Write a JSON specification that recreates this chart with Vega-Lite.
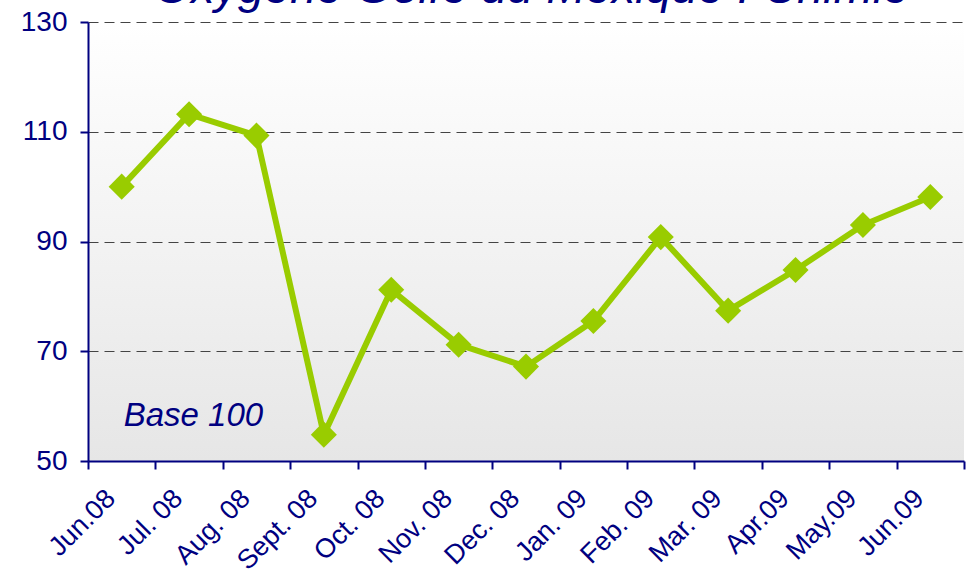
{
  "$schema": "https://vega.github.io/schema/vega-lite/v6.json",
  "width": 876,
  "height": 439,
  "autosize": "none",
  "padding": {"left": 88, "top": 22, "right": 6, "bottom": 108},
  "background": "white",
  "title": {
    "text": "Oxygène Golfe du Mexique : Chimie",
    "font": "Liberation Sans",
    "fontSize": 47,
    "fontStyle": "italic",
    "fontWeight": "normal",
    "color": "#000080",
    "anchor": "middle",
    "baseline": "alphabetic",
    "offset": -42,
    "dx": 6
  },
  "config": {
    "view": {
      "stroke": null,
      "fill": {
        "gradient": "linear",
        "x1": 0, "y1": 0, "x2": 0, "y2": 1,
        "stops": [
          {"offset": 0, "color": "#ffffff"},
          {"offset": 1, "color": "#e6e6e6"}
        ]
      }
    },
    "axis": {
      "labelFont": "Liberation Sans",
      "labelColor": "#000080",
      "domainColor": "#000080",
      "domainWidth": 2,
      "tickColor": "#000080",
      "tickWidth": 2,
      "tickSize": 8
    }
  },
  "data": {
    "values": [
      {"month": "Jun.08", "value": 100},
      {"month": "Jul. 08", "value": 113.2},
      {"month": "Aug. 08", "value": 109.3},
      {"month": "Sept. 08", "value": 54.8},
      {"month": "Oct. 08", "value": 81.2},
      {"month": "Nov. 08", "value": 71.2},
      {"month": "Dec. 08", "value": 67.2},
      {"month": "Jan. 09", "value": 75.5},
      {"month": "Feb. 09", "value": 90.8},
      {"month": "Mar. 09", "value": 77.4},
      {"month": "Apr.09", "value": 84.8},
      {"month": "May.09", "value": 93},
      {"month": "Jun.09", "value": 98.1}
    ]
  },
  "layer": [
    {
      "mark": {
        "type": "line",
        "color": "#99cc00",
        "strokeWidth": 6,
        "point": {"shape": "diamond", "size": 680, "filled": true, "color": "#99cc00", "opacity": 1}
      },
      "encoding": {
        "x": {
          "field": "month",
          "type": "ordinal",
          "sort": null,
          "bandPosition": 0.5,
          "scale": {"type": "band", "paddingInner": 0, "paddingOuter": 0},
          "axis": {
            "title": null,
            "labelAngle": -45,
            "labelAlign": "right",
            "labelBaseline": "middle",
            "labelFontSize": 27,
            "labelPadding": 25,
            "labelOffset": -11,
            "tickBand": "extent",
            "labelOverlap": false
          }
        },
        "y": {
          "field": "value",
          "type": "quantitative",
          "scale": {"domain": [50, 130], "nice": false, "zero": false},
          "axis": {
            "title": null,
            "values": [50, 70, 90, 110, 130],
            "labelFontSize": 28,
            "labelPadding": 13,
            "grid": true,
            "gridColor": "#444444",
            "gridDash": [10, 6],
            "gridWidth": 1
          }
        }
      }
    },
    {
      "data": {"values": [{}]},
      "mark": {
        "type": "text",
        "text": "Base 100",
        "font": "Liberation Sans",
        "fontSize": 33,
        "fontStyle": "italic",
        "fontWeight": "normal",
        "fill": "#000080",
        "align": "left",
        "baseline": "alphabetic",
        "dx": 2
      },
      "encoding": {
        "x": {"datum": "Jun.08", "type": "ordinal", "bandPosition": 0.5},
        "y": {"datum": 56.3, "type": "quantitative"}
      }
    }
  ]
}
